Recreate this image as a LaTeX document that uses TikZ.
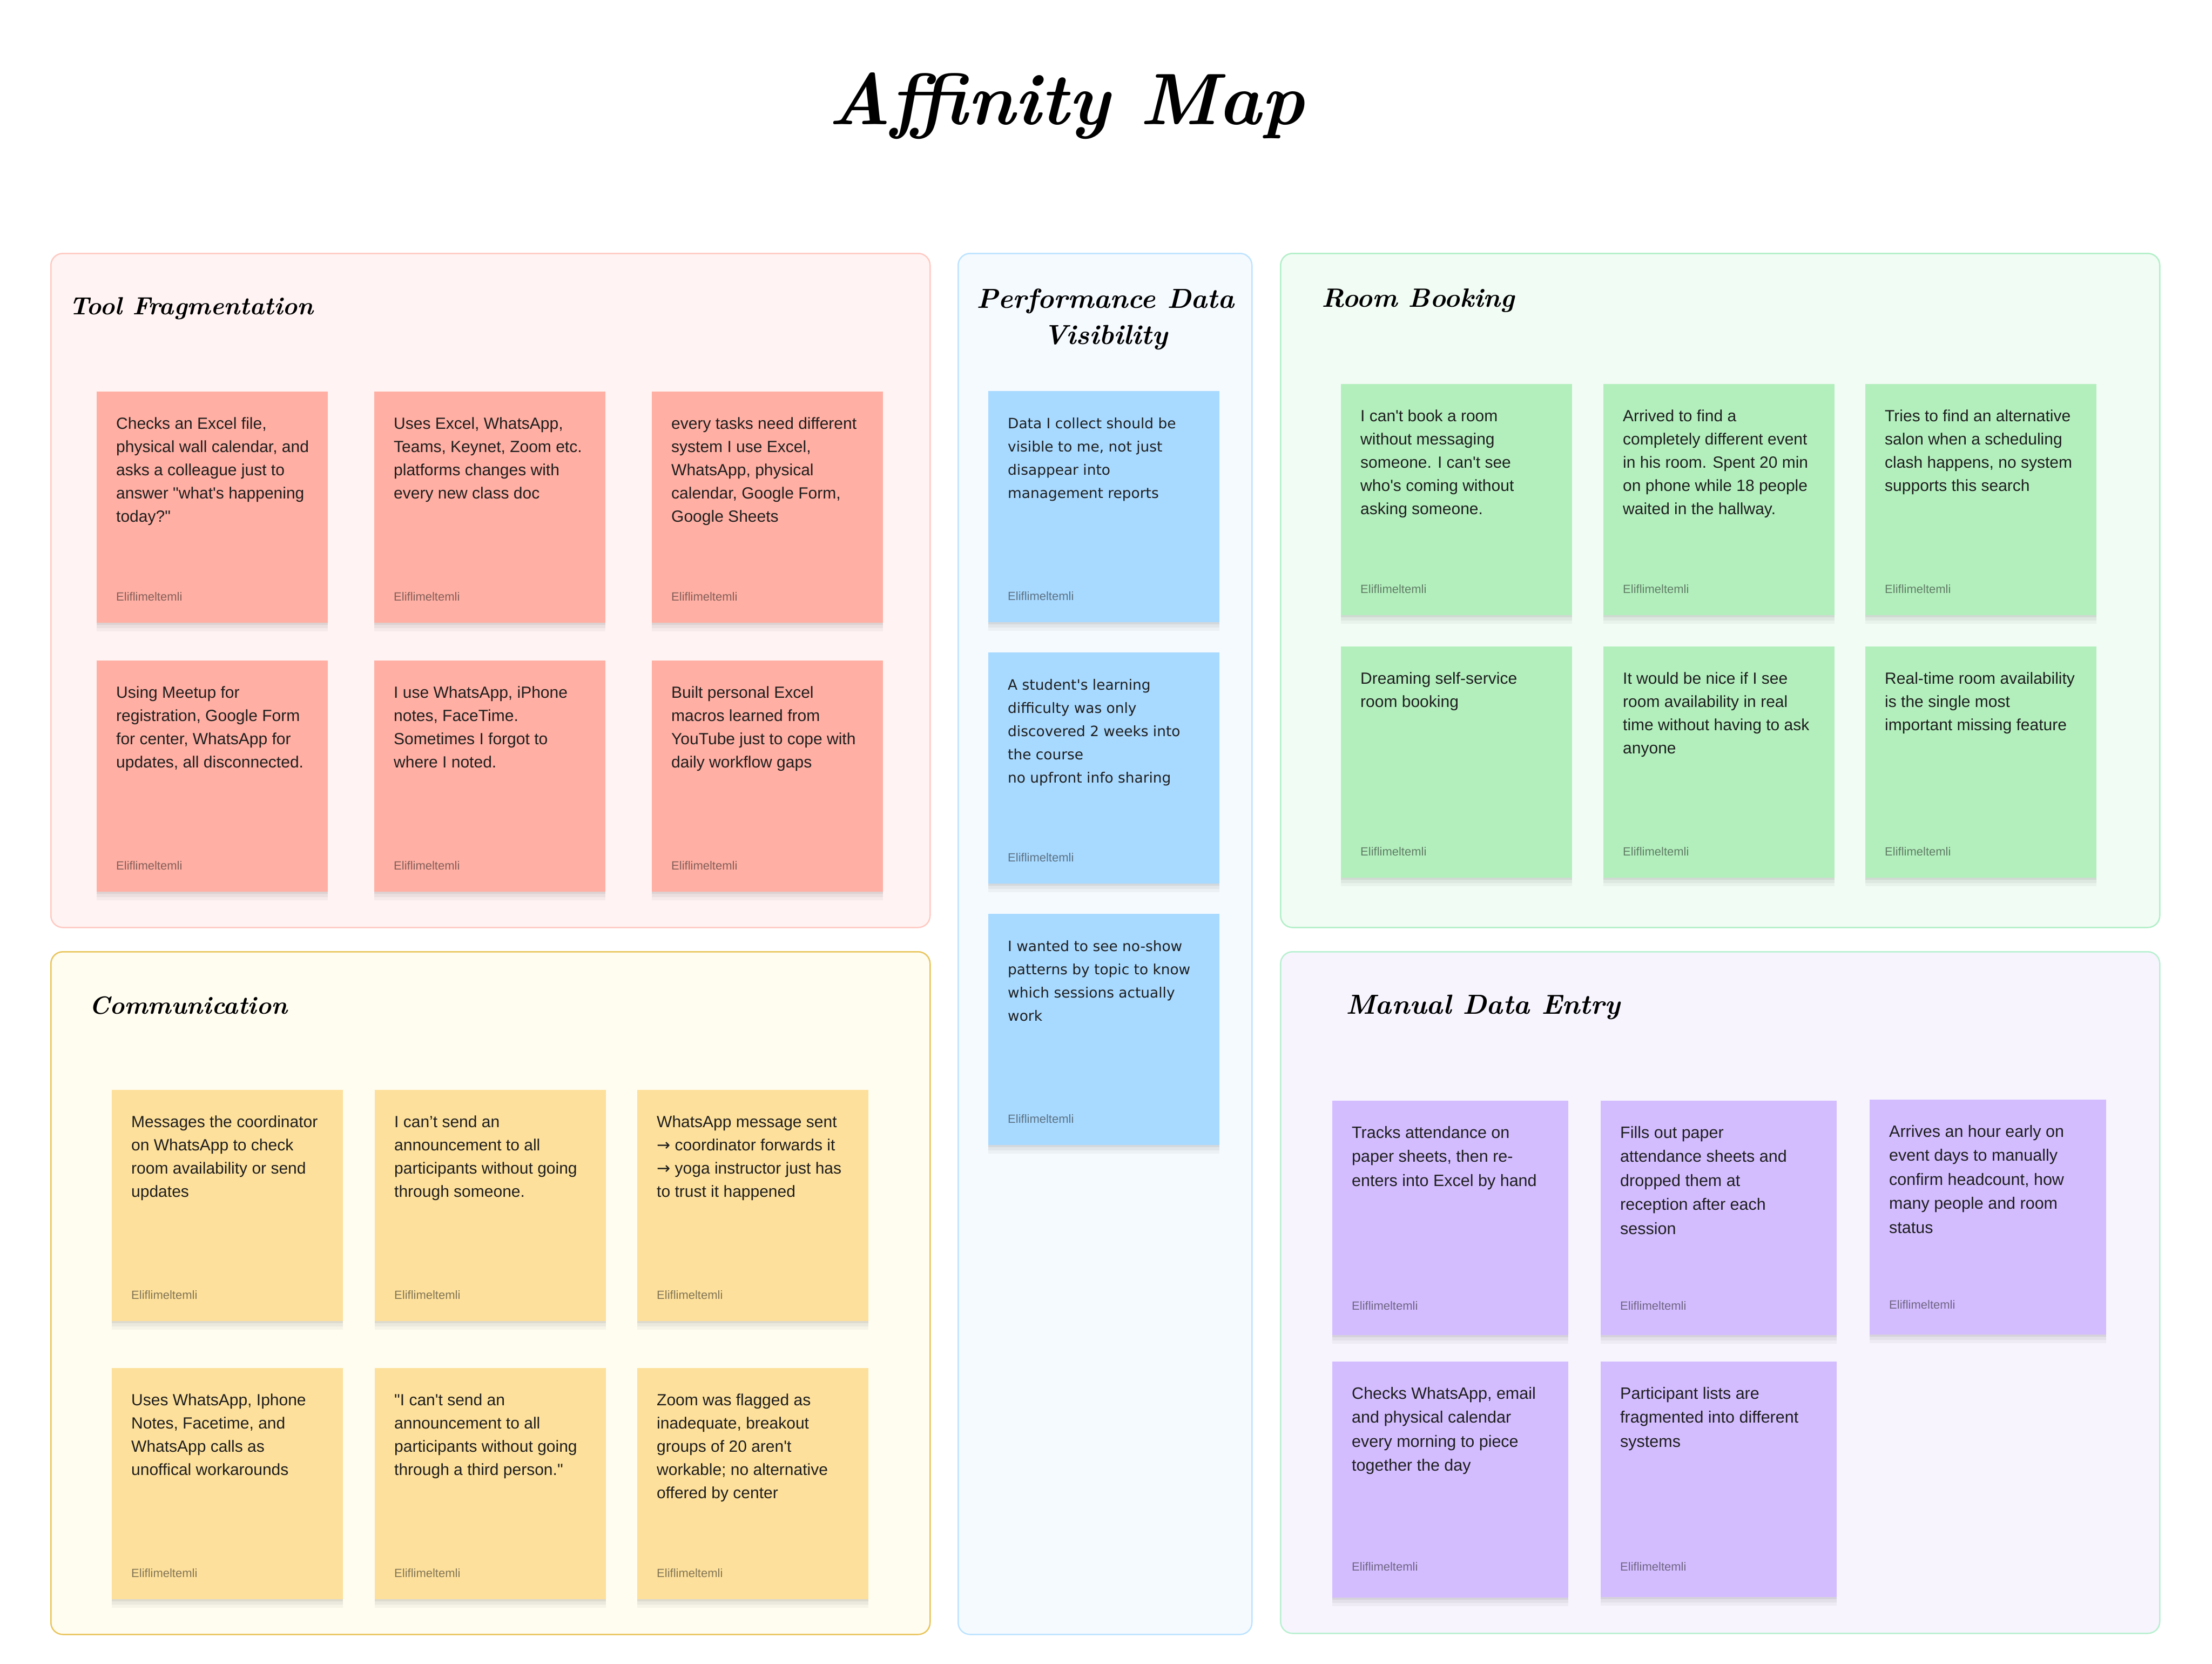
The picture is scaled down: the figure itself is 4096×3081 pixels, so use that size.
\documentclass[tikz,border=0pt]{standalone}
\usepackage{fontspec}
\usetikzlibrary{shadows}
\newfontfamily\notefont{Liberation Sans}
\newfontfamily\bluefont{DejaVu Sans}
\newfontfamily\arrowfont{DejaVu Sans}
\definecolor{inkc}{HTML}{1E1E1E}
\definecolor{pinkpanel}{HTML}{FFF4F3}\definecolor{pinkline}{HTML}{FFC9C2}
\definecolor{bluepanel}{HTML}{F5FAFF}\definecolor{blueline}{HTML}{BDE3FF}
\definecolor{greenpanel}{HTML}{F1FCF4}\definecolor{greenline}{HTML}{B2EFC8}
\definecolor{yellowpanel}{HTML}{FFFCF0}\definecolor{yellowline}{HTML}{E9C55C}
\definecolor{violetpanel}{HTML}{F7F4FE}\definecolor{violetline}{HTML}{B8F0D0}
\definecolor{pinknote}{HTML}{FFAFA3}
\definecolor{bluenote}{HTML}{A8D9FF}
\definecolor{greennote}{HTML}{B3EFBD}
\definecolor{yellownote}{HTML}{FDE09B}
\definecolor{violetnote}{HTML}{D3BDFF}
\newcommand{\arr}{{\arrowfont →}}
\newcommand{\sticky}[6]{%
  \node[notebox, #4] (#1) at (#2,#3) {};
  \node[#5, anchor=base west] (#1-txt) at ([xshift=36pt,yshift=-69pt]#1.north west) {\begin{tabular}[t]{@{}l@{}}#6\end{tabular}};
  \node[author, anchor=base west] (#1-by) at ([xshift=36pt,yshift=-387pt]#1.north west) {Eliflimeltemli};
}
\begin{document}
\begin{tikzpicture}[x=1pt,y=-1pt,
  panel/.style={rectangle, rounded corners=22pt, line width=2.5pt, anchor=north west, inner sep=0pt},
  notebox/.style={rectangle, inner sep=0pt, anchor=north west, draw=none,
    minimum width=428pt, minimum height=428pt,
    drop shadow={shadow xshift=0pt, shadow yshift=-16pt, opacity=0.035, fill=black},
    drop shadow={shadow xshift=0pt, shadow yshift=-10pt, opacity=0.045, fill=black},
    drop shadow={shadow xshift=0pt, shadow yshift=-4pt, opacity=0.06, fill=black}},
  ntext/.style={inner sep=0pt, text=inkc, font=\notefont\fontsize{30}{43}\selectfont},
  btext/.style={inner sep=0pt, text=inkc, font=\bluefont\fontsize{26.4}{43}\selectfont},
  vtext/.style={inner sep=0pt, text=inkc, font=\notefont\fontsize{30.5}{44.5}\selectfont},
  author/.style={inner sep=0pt, text=inkc, text opacity=0.55, font=\notefont\fontsize{22}{26}\selectfont},
  heading/.style={inner sep=0pt, text=black, font=\bfseries\itshape\fontsize{46}{60}\selectfont},
]
\useasboundingbox (0,0) rectangle (4096,3081);
\fill[white] (0,0) rectangle (4096,3081);

% title
\node[inner sep=0pt, anchor=base, text=black, font=\bfseries\itshape\fontsize{135}{150}\selectfont] (title) at (1974,230) {Affinity Map};

% panels
\node[panel, fill=pinkpanel, draw=pinkline, minimum width=1628pt, minimum height=1248pt] (pTool) at (93,468) {};
\node[panel, fill=bluepanel, draw=blueline, minimum width=544pt, minimum height=2557pt] (pPerf) at (1773,468) {};
\node[panel, fill=greenpanel, draw=greenline, minimum width=1628pt, minimum height=1248pt] (pRoom) at (2370,468) {};
\node[panel, fill=yellowpanel, draw=yellowline, minimum width=1628pt, minimum height=1264pt] (pComm) at (93,1761) {};
\node[panel, fill=violetpanel, draw=violetline, minimum width=1628pt, minimum height=1262pt] (pMan) at (2370,1761) {};

% headings
\node[heading, anchor=base west] (hTool) at (128,582) {Tool Fragmentation};
\node[heading, anchor=base, font=\bfseries\itshape\fontsize{51}{60}\selectfont] (hPerf1) at (2047,570) {Performance Data};
\node[heading, anchor=base, font=\bfseries\itshape\fontsize{51}{60}\selectfont] (hPerf2) at (2047,637) {Visibility};
\node[heading, anchor=base west, font=\bfseries\itshape\fontsize{49}{60}\selectfont] (hRoom) at (2447,568) {Room Booking};
\node[heading, anchor=base west] (hComm) at (165,1877) {Communication};
\node[heading, anchor=base west, font=\bfseries\itshape\fontsize{51}{60}\selectfont] (hMan) at (2492,1877) {Manual Data Entry};

% Tool Fragmentation notes
\sticky{t1}{179}{725}{fill=pinknote}{ntext}{Checks an Excel file,\\physical wall calendar, and\\asks a colleague just to\\answer "what's happening\\today?"}
\sticky{t2}{693}{725}{fill=pinknote}{ntext}{Uses Excel, WhatsApp,\\Teams, Keynet, Zoom etc.\\platforms changes with\\every new class doc}
\sticky{t3}{1207}{725}{fill=pinknote}{ntext}{every tasks need different\\system I use Excel,\\WhatsApp, physical\\calendar, Google Form,\\Google Sheets}
\sticky{t4}{179}{1223}{fill=pinknote}{ntext}{Using Meetup for\\registration, Google Form\\for center, WhatsApp for\\updates, all disconnected.}
\sticky{t5}{693}{1223}{fill=pinknote}{ntext}{I use WhatsApp, iPhone\\notes, FaceTime.\\Sometimes I forgot to\\where I noted.}
\sticky{t6}{1207}{1223}{fill=pinknote}{ntext}{Built personal Excel\\macros learned from\\YouTube just to cope with\\daily workflow gaps}

% Performance Data Visibility notes
\sticky{b1}{1830}{724}{fill=bluenote}{btext}{Data I collect should be\\visible to me, not just\\disappear into\\management reports}
\sticky{b2}{1830}{1208}{fill=bluenote}{btext}{A student's learning\\difficulty was only\\discovered 2 weeks into\\the course\\no upfront info sharing}
\sticky{b3}{1830}{1692}{fill=bluenote}{btext}{I wanted to see no-show\\patterns by topic to know\\which sessions actually\\work}

% Room Booking notes
\sticky{r1}{2483}{711}{fill=greennote}{ntext}{I can't book a room\\without messaging\\someone. I can't see\\who's coming without\\asking someone.}
\sticky{r2}{2969}{711}{fill=greennote}{ntext}{Arrived to find a\\completely different event\\in his room. Spent 20 min\\on phone while 18 people\\waited in the hallway.}
\sticky{r3}{3454}{711}{fill=greennote}{ntext}{Tries to find an alternative\\salon when a scheduling\\clash happens, no system\\supports this search}
\sticky{r4}{2483}{1197}{fill=greennote}{ntext}{Dreaming self-service\\room booking}
\sticky{r5}{2969}{1197}{fill=greennote}{ntext}{It would be nice if I see\\room availability in real\\time without having to ask\\anyone}
\sticky{r6}{3454}{1197}{fill=greennote}{ntext}{Real-time room availability\\is the single most\\important missing feature}

% Communication notes
\sticky{c1}{207}{2018}{fill=yellownote}{ntext}{Messages the coordinator\\on WhatsApp to check\\room availability or send\\updates}
\sticky{c2}{694}{2018}{fill=yellownote}{ntext}{I can’t send an\\announcement to all\\participants without going\\through someone.}
\sticky{c3}{1180}{2018}{fill=yellownote}{ntext}{WhatsApp message sent\\\arr{} coordinator forwards it\\\arr{} yoga instructor just has\\to trust it happened}
\sticky{c4}{207}{2533}{fill=yellownote}{ntext}{Uses WhatsApp, Iphone\\Notes, Facetime, and\\WhatsApp calls as\\unoffical workarounds}
\sticky{c5}{694}{2533}{fill=yellownote}{ntext}{"I can't send an\\announcement to all\\participants without going\\through a third person."}
\sticky{c6}{1180}{2533}{fill=yellownote}{ntext}{Zoom was flagged as\\inadequate, breakout\\groups of 20 aren't\\workable; no alternative\\offered by center}

% Manual Data Entry notes
\sticky{m1}{2467}{2038}{fill=violetnote, minimum width=437pt, minimum height=434pt}{vtext}{Tracks attendance on\\paper sheets, then re-\\enters into Excel by hand}
\sticky{m2}{2964}{2038}{fill=violetnote, minimum width=437pt, minimum height=434pt}{vtext}{Fills out paper\\attendance sheets and\\dropped them at\\reception after each\\session}
\sticky{m3}{3462}{2036}{fill=violetnote, minimum width=438pt, minimum height=435pt}{vtext}{Arrives an hour early on\\event days to manually\\confirm headcount, how\\many people and room\\status}
\sticky{m4}{2467}{2521}{fill=violetnote, minimum width=437pt, minimum height=437pt}{vtext}{Checks WhatsApp, email\\and physical calendar\\every morning to piece\\together the day}
\sticky{m5}{2964}{2521}{fill=violetnote, minimum width=437pt, minimum height=436pt}{vtext}{Participant lists are\\fragmented into different\\systems}
\end{tikzpicture}
\end{document}
